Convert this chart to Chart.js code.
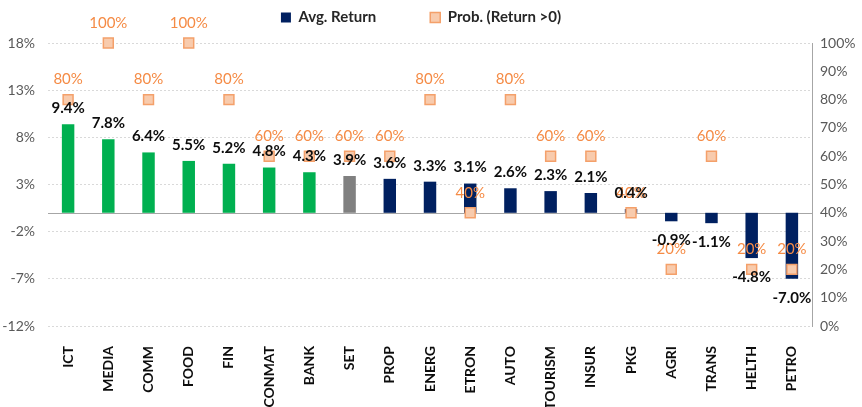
<!DOCTYPE html>
<html>
<head>
<meta charset="utf-8">
<script src="https://cdn.jsdelivr.net/npm/chart.js@4/dist/chart.umd.min.js"></script>
<style>
  html, body { margin: 0; padding: 0; background: #fff; }
  #wrap { width: 862px; height: 407px; }
</style>
</head>
<body>
<div id="wrap"><canvas id="chart"></canvas></div>
<script>
const sectors = ["ICT", "MEDIA", "COMM", "FOOD", "FIN", "CONMAT", "BANK", "SET", "PROP", "ENERG",
  "ETRON", "AUTO", "TOURISM", "INSUR", "PKG", "AGRI", "TRANS", "HELTH", "PETRO"];
const avgReturn = [9.4, 7.8, 6.4, 5.5, 5.2, 4.8, 4.3, 3.9, 3.6, 3.3, 3.1, 2.6, 2.3, 2.1, 0.4, -0.9, -1.1, -4.8, -7.0];
const probPositive = [80, 100, 80, 100, 80, 60, 60, 60, 60, 80, 40, 80, 60, 60, 40, 20, 60, 20, 20];
const leftTicks = { min: -12, max: 18, step: 5 };
const rightTicks = { min: 0, max: 100, step: 10 };

const GREEN = "#00b050", GREY = "#808080", NAVY = "#002060";
const ORANGE = "#f58b45";

Chart.defaults.font.family = "Lato";

function barColor(sector, v) {
  if (sector === "SET") return GREY;
  return v > 4 ? GREEN : NAVY;
}

// solid line at 0% on the left axis
const zeroLine = {
  id: "zeroLine",
  beforeDatasetsDraw(chart) {
    const { ctx, chartArea, scales } = chart;
    const py = Math.round(scales.y.getPixelForValue(0)) + 0.5;
    ctx.save();
    ctx.strokeStyle = "#a6a6a6";
    ctx.lineWidth = 1;
    ctx.beginPath();
    ctx.moveTo(chartArea.left, py);
    ctx.lineTo(chartArea.right, py);
    ctx.stroke();
    ctx.restore();
  }
};

const valueLabels = {
  id: "valueLabels",
  afterDatasetsDraw(chart) {
    const ctx = chart.ctx;
    ctx.save();
    ctx.textAlign = "center";
    ctx.textBaseline = "middle";
    ctx.font = "15px Lato";
    ctx.fillStyle = ORANGE;
    chart.getDatasetMeta(1).data.forEach((pt, i) => {
      ctx.fillText(probPositive[i] + "%", pt.x, pt.y - 20);
    });
    ctx.font = "bold 15px Lato";
    ctx.fillStyle = "#0d0d0d";
    chart.getDatasetMeta(0).data.forEach((bar, i) => {
      const v = avgReturn[i];
      ctx.fillText(v.toFixed(1) + "%", bar.x, v >= 0 ? bar.y - 16 : bar.y + 19);
    });
    ctx.restore();
  }
};

// wider gap between legend items without a tall legend box
const legendSpacing = {
  id: "legendSpacing",
  beforeInit(chart) {
    const fit = chart.legend.fit;
    chart.legend.fit = function () {
      fit.call(this);
      this.height = 43;
    };
  },
  afterLayout(chart) {
    const lg = chart.legend;
    lg.top = -44;
    lg.bottom = 43;
    lg.left -= 10;
    lg.right -= 10;
  }
};

new Chart(document.getElementById("chart"), {
  data: {
    labels: sectors,
    datasets: [
      {
        type: "bar",
        label: "Avg. Return",
        data: avgReturn,
        yAxisID: "y",
        backgroundColor: avgReturn.map((v, i) => barColor(sectors[i], v)),
        borderWidth: 0,
        categoryPercentage: 1,
        barPercentage: 0.31,
        order: 1
      },
      {
        type: "line",
        label: "Prob. (Return >0)",
        data: probPositive,
        yAxisID: "y2",
        showLine: false,
        pointStyle: "rect",
        pointRadius: 7,
        pointHoverRadius: 7,
        backgroundColor: "#f8cbad",
        borderColor: "#f4a06a",
        borderWidth: 1.5,
        pointBackgroundColor: "#f8cbad",
        pointBorderColor: "#f4a06a",
        pointBorderWidth: 1.5,
        clip: false,
        order: 0
      }
    ]
  },
  options: {
    responsive: true,
    maintainAspectRatio: false,
    animation: false,
    layout: { padding: 0 },
    plugins: {
      tooltip: { enabled: false },
      legend: {
        position: "top",
        labels: {
          boxWidth: 10,
          boxHeight: 10,
          padding: 54,
          color: "#262626",
          font: { size: 15, weight: "bold" },
          sort: (a, b) => a.datasetIndex - b.datasetIndex,
          generateLabels(chart) {
            const items = Chart.defaults.plugins.legend.labels.generateLabels(chart);
            items.forEach(it => {
              if (it.datasetIndex === 0) {
                it.fillStyle = NAVY;
                it.strokeStyle = NAVY;
                it.lineWidth = 0;
              }
            });
            return items;
          }
        }
      }
    },
    scales: {
      x: {
        grid: { display: false, drawTicks: false },
        border: { display: false },
        ticks: {
          color: "#0d0d0d",
          font: { size: 14, weight: "bold" },
          minRotation: 90,
          maxRotation: 90,
          autoSkip: false,
          padding: 20
        },
        afterFit(scale) { scale.height = 81; }
      },
      y: {
        position: "left",
        min: leftTicks.min,
        max: leftTicks.max,
        grid: { color: "#d9d9d9", drawTicks: false },
        border: { display: false, dash: [2, 2] },
        ticks: {
          stepSize: leftTicks.step,
          color: "#595959",
          font: { size: 14 },
          padding: 13,
          callback: v => v + "%"
        },
        afterFit(scale) { scale.width = 48; }
      },
      y2: {
        position: "right",
        min: rightTicks.min,
        max: rightTicks.max,
        grid: { display: false, drawTicks: false },
        border: { display: true, color: "#a6a6a6", width: 1 },
        ticks: {
          stepSize: rightTicks.step,
          color: "#595959",
          font: { size: 14 },
          padding: 8,
          callback: v => v + "%"
        },
        afterFit(scale) { scale.width = 50; }
      }
    }
  },
  plugins: [legendSpacing, zeroLine, valueLabels]
});
</script>
</body>
</html>
